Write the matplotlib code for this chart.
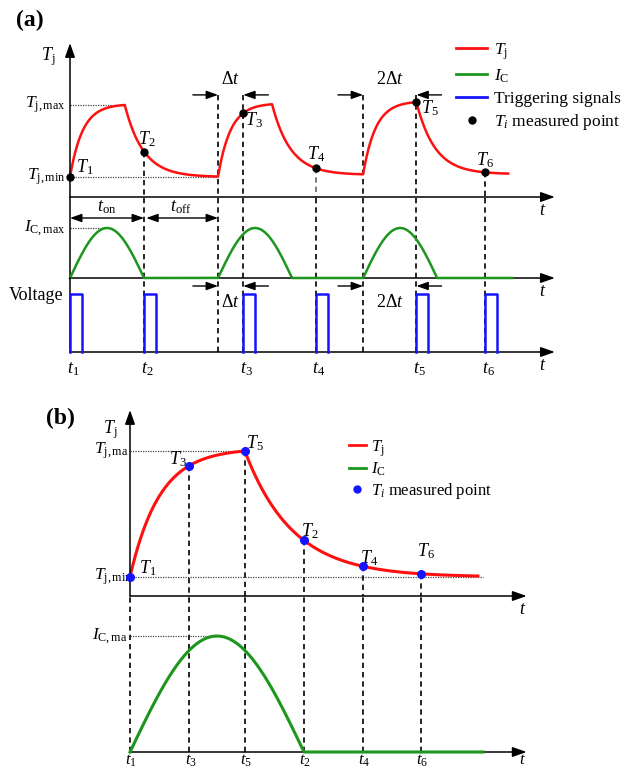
import numpy as np
import matplotlib
matplotlib.use('Agg')
from matplotlib import pyplot as plt
from matplotlib.lines import Line2D

plt.rcParams['font.family'] = 'Liberation Serif'
plt.rcParams['mathtext.fontset'] = 'custom'
plt.rcParams['mathtext.rm'] = 'Liberation Serif'
plt.rcParams['mathtext.it'] = 'Liberation Serif:italic'
plt.rcParams['mathtext.bf'] = 'Liberation Serif:bold'

RED, GREEN, BLUE = '#ff1010', '#1c961c', '#1414ff'

# time in units of t_on, Tj scaled so that Tj,min = 0 and Tj,max = 1
t_on = 1.0
tau_rise = 0.17

# panel (a)
pulse_start_a = [0.0, 2.0, 3.96]
heat_len_a = [0.74, 0.73, 0.72]
tj_peak_a = [1.0, 1.01, 1.04]
tj_floor_a = [0.0, 0.03, 0.04]
t_meas_a = [0.0, 1.0, 2.34, 3.32, 4.68, 5.61]      # t1 ... t6
t_end_a = 5.92
ic_end_a = 5.97
tau_fall_a = 0.25
gate_width = 0.16
dt_marks_a = [(2.0, 2.34, r'$\Delta t$'), (3.96, 4.68, r'$2\Delta t$')]

# panel (b)
pulse_start_b = [0.0]
heat_len_b = [0.66]
tj_peak_b = [1.0]
tj_floor_b = [0.0]
t_meas_b = [0.0, 1.0, 0.34, 1.34, 0.66, 1.67]      # t1 ... t6
t_end_b = 2.0
ic_end_b = 2.03
tau_fall_b = 0.275

tick_names = [r'$t_%d$' % (i + 1) for i in range(6)]
point_names = [r'$T_%d$' % (i + 1) for i in range(6)]


def tj_curve(t, starts, heat, peaks, floors, t_end, tau_f):
    y = np.zeros_like(t, dtype=float)
    level = floors[0]
    for k, s in enumerate(starts):
        e = starts[k + 1] if k + 1 < len(starts) else t_end
        h = heat[k]
        m = (t >= s) & (t <= s + h)
        y[m] = level + (peaks[k] - level) * (1 - np.exp(-(t[m] - s) / tau_rise)) / (1 - np.exp(-h / tau_rise))
        m = (t > s + h) & (t <= e)
        y[m] = floors[k] + (peaks[k] - floors[k]) * np.exp(-(t[m] - s - h) / tau_f)
        level = floors[k] + (peaks[k] - floors[k]) * np.exp(-(e - s - h) / tau_f)
    return y


def ic_curve(t, starts):
    y = np.zeros_like(t, dtype=float)
    for s in starts:
        m = (t >= s) & (t <= s + t_on)
        y[m] = np.sin(np.pi * (t[m] - s) / t_on)
    return y


W, H = 629, 770
fig = plt.figure(figsize=(W / 100, H / 100), dpi=100)


def make_ax(x0, y0, x1, y1, xlim, ylim):
    ax = fig.add_axes([x0 / W, 1 - y1 / H, (x1 - x0) / W, (y1 - y0) / H])
    ax.set_xlim(*xlim)
    ax.set_ylim(*ylim)
    ax.axis('off')
    return ax


def arrow(ax, start, tip, lw=1.1, hl=0.85, hw=0.3, style='-|>'):
    ax.annotate('', xy=tip, xytext=start, annotation_clip=False,
                arrowprops=dict(arrowstyle='%s,head_length=%g,head_width=%g' % (style, hl, hw),
                                color='k', lw=lw, shrinkA=0, shrinkB=0))


def txt(ax, x, y, s, dx=0, dy=0, size=12, **kw):
    kw.setdefault('ha', 'center')
    kw.setdefault('va', 'center')
    ax.annotate(s, xy=(x, y), xytext=(dx, dy), textcoords='offset points',
                fontsize=size, annotation_clip=False, **kw)


def vdash(ax, x, y0, y1, color='k'):
    ax.plot([x, x], [y0, y1], color=color, lw=1.2, ls=(0, (3.2, 2.4)), clip_on=False, zorder=1)


def dotted(ax, x0, x1, y):
    ax.plot([x0, x1], [y, y], color='#444444', lw=0.9, ls=(0, (1, 1)), clip_on=False, zorder=1)


fig.text(30 / W, 1 - 20 / H, '(a)', ha='center', va='center', fontsize=17, weight='bold')
fig.text(60 / W, 1 - 418 / H, '(b)', ha='center', va='center', fontsize=17, weight='bold')

# ---------------- panel (a) ----------------
xl_a = (0, 6.62)
tip_a = 6.55
ax1 = make_ax(70, 36, 560, 197, xl_a, (-0.278, 1.958))
ax2 = make_ax(70, 197, 560, 278, xl_a, (0, 1.62))
ax3 = make_ax(70, 278, 560, 352, xl_a, (0, 1.276))

t = np.union1d(np.linspace(0, t_end_a, 3000), pulse_start_a)
tj = tj_curve(t, pulse_start_a, heat_len_a, tj_peak_a, tj_floor_a, t_end_a, tau_fall_a)
ax1.plot(t, tj, color=RED, lw=1.8, zorder=3, clip_on=False)
tm = np.array(t_meas_a)
tj_m = tj_curve(tm, pulse_start_a, heat_len_a, tj_peak_a, tj_floor_a, t_end_a, tau_fall_a)
ax1.plot(tm, tj_m, 'o', color='k', ms=5, zorder=4, clip_on=False)

dotted(ax1, 0, pulse_start_a[0] + heat_len_a[0], 1.0)
dotted(ax1, 0, pulse_start_a[1], 0.0)
dotted(ax2, 0, 0.5, 1.0)

y_dt = 1.14
dash_top = {2: y_dt, 4: y_dt}
for i, x in enumerate(t_meas_a[1:], start=1):
    vdash(ax1, x, dash_top.get(i, tj_m[i]), -0.278, color='#666666' if i == 3 else 'k')
for x in pulse_start_a[1:]:
    vdash(ax1, x, y_dt, -0.278)
for x in t_meas_a[1:] + pulse_start_a[1:]:
    vdash(ax2, x, 0, 1.62)
    vdash(ax3, x, 0, 1.276)

# axes lines
arrow(ax1, (0, -0.278), (0, 1.86))
ax2.plot([0, 0], [0, 1.62], color='k', lw=1.1, clip_on=False)
ax3.plot([0, 0], [0, 1.276], color='k', lw=1.1, clip_on=False)
for ax, yb in [(ax1, -0.278), (ax2, 0), (ax3, 0)]:
    arrow(ax, (0, yb), (tip_a, yb))
    txt(ax, tip_a, yb, r'$t$', dx=-9, dy=-10, size=13)

# I_C and gate signals
t2 = np.union1d(np.linspace(0, ic_end_a, 3000), pulse_start_a)
ax2.plot(t2, ic_curve(t2, pulse_start_a), color=GREEN, lw=1.8, zorder=3, clip_on=False)
for x in t_meas_a:
    ax3.plot([x, x, x + gate_width, x + gate_width], [0, 1, 1, 0], color=BLUE, lw=1.8,
             zorder=3, clip_on=False)

# delta t markers
for s, e, lab in dt_marks_a:
    for ax, yy, dy in [(ax1, y_dt, 11), (ax3, 1.138, -12)]:
        arrow(ax, (s - 0.34, yy), (s, yy), lw=1.0, hl=0.7, hw=0.25)
        arrow(ax, (e + 0.34, yy), (e, yy), lw=1.0, hl=0.7, hw=0.25)
        txt(ax, (s + e) / 2, yy, lab, dy=dy, size=13)

# t_on / t_off
arrow(ax2, (0, 1.2), (t_on, 1.2), lw=1.0, hl=0.7, hw=0.25, style='<|-|>')
arrow(ax2, (t_on + 0.03, 1.2), (pulse_start_a[1], 1.2), lw=1.0, hl=0.7, hw=0.25, style='<|-|>')
txt(ax2, 0.5, 1.2, r'$t_{\mathrm{on}}$', dy=8, size=13)
txt(ax2, 1.5, 1.2, r'$t_{\mathrm{off}}$', dy=8, size=13)

# labels
txt(ax1, 0, 1.86, r'$T_{\mathrm{j}}$', dx=-16, dy=-10, size=13)
txt(ax1, 0, 1.0, r'$T_{\mathrm{j,max}}$', dx=-3, ha='right', size=12.5)
txt(ax1, 0, 0.0, r'$T_{\mathrm{j,min}}$', dx=-3, ha='right', size=12.5)
txt(ax2, 0, 1.0, r'$I_{\mathrm{C,max}}$', dx=-3, ha='right', size=12.5)
txt(ax3, 0, 1.0, 'Voltage', dx=-5, dy=-1, ha='right', size=13)
for x, s in zip(t_meas_a, tick_names):
    txt(ax3, x, 0, s, dx=2, dy=-12, size=13)
off_a = [(11, 7), (2, 9), (8, -5), (0, 10), (10, -4), (0, 9)]
for x, y, s, (dx, dy) in zip(t_meas_a, tj_m, point_names, off_a):
    txt(ax1, x, y, s, dx=dx, dy=dy, size=13)

leg_a = [Line2D([], [], color=RED, lw=2), Line2D([], [], color=GREEN, lw=2),
         Line2D([], [], color=BLUE, lw=2), Line2D([], [], ls='none', marker='o', color='k', ms=5)]
fig.legend(leg_a, [r'$T_{\mathrm{j}}$', r'$I_{\mathrm{C}}$', 'Triggering signals', r'$T_i$ measured point'],
           loc='upper left', bbox_to_anchor=(456 / W, 1 - 41 / H), frameon=False, fontsize=12.5,
           handlelength=1.8, handletextpad=0.4, labelspacing=0.33, borderpad=0, borderaxespad=0)

# ---------------- panel (b) ----------------
xl_b = (0, 2.328)
tip_b = 2.28
bx1 = make_ax(130, 405, 535, 596, xl_b, (-0.151, 1.365))
bx2 = make_ax(130, 596, 535, 752, xl_b, (0, 1.345))

tb = np.linspace(0, t_end_b, 2000)
bx1.plot(tb, tj_curve(tb, pulse_start_b, heat_len_b, tj_peak_b, tj_floor_b, t_end_b, tau_fall_b),
         color=RED, lw=2.2, zorder=3, clip_on=False)
tmb = np.array(t_meas_b)
tj_mb = tj_curve(tmb, pulse_start_b, heat_len_b, tj_peak_b, tj_floor_b, t_end_b, tau_fall_b)
bx1.plot(tmb, tj_mb, 'o', color=BLUE, ms=5.5, zorder=4, clip_on=False)

dotted(bx1, 0, heat_len_b[0], 1.0)
dotted(bx1, 0, ic_end_b, 0.0)
dotted(bx2, 0, 0.5, 1.0)

for i, x in enumerate(t_meas_b):
    if i > 0:
        vdash(bx1, x, tj_mb[i], -0.151)
    vdash(bx2, x, 0, 1.345)

arrow(bx1, (0, -0.151), (0, 1.325))
arrow(bx1, (0, -0.151), (tip_b, -0.151))
arrow(bx2, (0, 0), (tip_b, 0))
txt(bx1, tip_b, -0.151, r'$t$', dx=-3, dy=-10, size=13)
txt(bx2, tip_b, 0, r'$t$', dx=-3, dy=-6, size=12)

tb2 = np.linspace(0, ic_end_b, 2000)
bx2.plot(tb2, ic_curve(tb2, pulse_start_b), color=GREEN, lw=2.2, zorder=3, clip_on=False)

txt(bx1, 0, 1.325, r'$T_{\mathrm{j}}$', dx=-14, dy=-14, size=13)
txt(bx1, 0, 1.0, r'$T_{\mathrm{j,ma}}$', dx=-1, ha='right', size=12.5)
txt(bx1, 0, 0.0, r'$T_{\mathrm{j,min}}$', dx=2, ha='right', size=12.5)
txt(bx2, 0, 1.0, r'$I_{\mathrm{C,ma}}$', dx=-2, ha='right', size=12.5)
for x, s in zip(t_meas_b, tick_names):
    txt(bx2, x, 0, s, dx=1, dy=-6, size=12)
off_b = [(13, 6), (4, 7), (-8, 5), (4, 6), (7, 6), (4, 16)]
for x, y, s, (dx, dy) in zip(t_meas_b, tj_mb, point_names, off_b):
    txt(bx1, x, y, s, dx=dx, dy=dy, size=13)

leg_b = [Line2D([], [], color=RED, lw=2), Line2D([], [], color=GREEN, lw=2),
         Line2D([], [], ls='none', marker='o', color=BLUE, ms=5)]
fig.legend(leg_b, [r'$T_{\mathrm{j}}$', r'$I_{\mathrm{C}}$', r'$T_i$ measured point'],
           loc='upper left', bbox_to_anchor=(349 / W, 1 - 438 / H), frameon=False, fontsize=12,
           handlelength=1.0, handletextpad=0.35, labelspacing=0.15, borderpad=0, borderaxespad=0)

fig.savefig('out.png', dpi=100)
